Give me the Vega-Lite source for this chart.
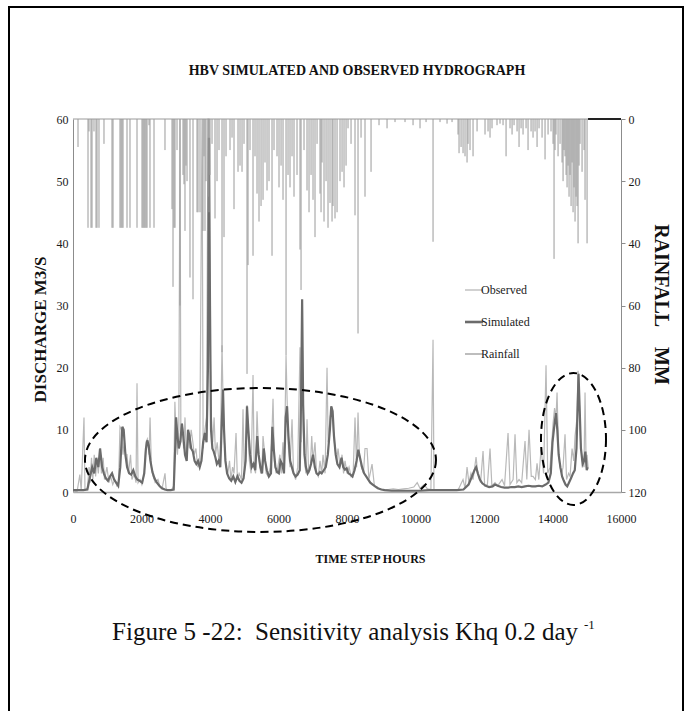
{
  "$schema": "https://vega.github.io/schema/vega-lite/v6.json",
  "width": 674,
  "height": 713,
  "autosize": "none",
  "padding": {"left": 9, "top": 7, "right": 8, "bottom": 0},
  "background": "white",
  "config": {
    "view": {"stroke": "#000000", "strokeWidth": 2},
    "font": "Liberation Serif",
    "axis": {"labelFont": "Liberation Serif", "titleFont": "Liberation Serif", "grid": false, "labelColor": "#1a1a1a", "titleColor": "#111111", "labelFlush": false, "labelOverlap": false}
  },
  "datasets": {
    "observed": [
      {"t":0,"Observed":0},{"t":120,"Observed":0.1},{"t":200,"Observed":2.8},{"t":240,"Observed":0.2},{"t":321,"Observed":12},{"t":350,"Observed":0.4},{"t":420,"Observed":0.6},{"t":470,"Observed":4},{"t":500,"Observed":1.5},{"t":540,"Observed":5.5},{"t":580,"Observed":2},{"t":620,"Observed":6},{"t":660,"Observed":2.5},{"t":700,"Observed":5},{"t":740,"Observed":3},{"t":790,"Observed":7},{"t":830,"Observed":3},{"t":880,"Observed":5.5},{"t":920,"Observed":2},{"t":990,"Observed":4},{"t":1050,"Observed":1.5},{"t":1100,"Observed":2.5},{"t":1160,"Observed":1.2},{"t":1220,"Observed":2},{"t":1280,"Observed":1},{"t":1330,"Observed":1.5},{"t":1372,"Observed":10.5},{"t":1420,"Observed":10},{"t":1460,"Observed":6},{"t":1500,"Observed":8},{"t":1540,"Observed":6},{"t":1577,"Observed":6},{"t":1620,"Observed":3},{"t":1680,"Observed":6},{"t":1720,"Observed":2},{"t":1790,"Observed":3},{"t":1840,"Observed":1.5},{"t":1869,"Observed":17.5},{"t":1900,"Observed":1.5},{"t":1960,"Observed":2},{"t":2010,"Observed":1.2},{"t":2080,"Observed":3},{"t":2130,"Observed":8},{"t":2170,"Observed":8.5},{"t":2220,"Observed":6},{"t":2250,"Observed":12},{"t":2290,"Observed":4},{"t":2340,"Observed":2.5},{"t":2400,"Observed":1.5},{"t":2480,"Observed":2},{"t":2540,"Observed":0.8},{"t":2600,"Observed":0.5},{"t":2686,"Observed":3},{"t":2720,"Observed":0.4},{"t":2800,"Observed":0.3},{"t":2880,"Observed":0.3},{"t":2940,"Observed":1},{"t":2975,"Observed":14.5},{"t":3010,"Observed":9},{"t":3050,"Observed":6},{"t":3090,"Observed":10},{"t":3124,"Observed":60},{"t":3150,"Observed":8},{"t":3190,"Observed":11},{"t":3230,"Observed":7},{"t":3270,"Observed":12},{"t":3310,"Observed":6},{"t":3360,"Observed":9},{"t":3400,"Observed":7},{"t":3450,"Observed":10},{"t":3500,"Observed":8},{"t":3540,"Observed":6},{"t":3590,"Observed":7},{"t":3640,"Observed":4},{"t":3700,"Observed":5},{"t":3767,"Observed":60},{"t":3800,"Observed":7},{"t":3850,"Observed":10},{"t":3900,"Observed":12},{"t":3942,"Observed":60},{"t":3971,"Observed":60},{"t":4000,"Observed":25},{"t":4040,"Observed":12},{"t":4080,"Observed":8},{"t":4120,"Observed":12},{"t":4160,"Observed":6},{"t":4210,"Observed":8},{"t":4260,"Observed":5},{"t":4300,"Observed":6},{"t":4351,"Observed":23.6},{"t":4380,"Observed":15},{"t":4420,"Observed":8},{"t":4470,"Observed":4},{"t":4520,"Observed":3},{"t":4570,"Observed":5},{"t":4610,"Observed":2},{"t":4660,"Observed":4},{"t":4701,"Observed":3},{"t":4760,"Observed":9.5},{"t":4800,"Observed":2},{"t":4850,"Observed":3},{"t":4920,"Observed":2},{"t":4964,"Observed":13.3},{"t":5000,"Observed":3},{"t":5050,"Observed":6},{"t":5081,"Observed":14},{"t":5110,"Observed":10},{"t":5150,"Observed":5},{"t":5200,"Observed":3},{"t":5256,"Observed":18.8},{"t":5290,"Observed":4},{"t":5330,"Observed":3},{"t":5373,"Observed":13},{"t":5420,"Observed":6},{"t":5480,"Observed":3},{"t":5520,"Observed":4},{"t":5548,"Observed":9},{"t":5600,"Observed":6},{"t":5640,"Observed":3},{"t":5700,"Observed":2.5},{"t":5760,"Observed":4},{"t":5800,"Observed":8},{"t":5840,"Observed":15},{"t":5880,"Observed":5},{"t":5930,"Observed":3},{"t":5980,"Observed":4},{"t":6040,"Observed":6},{"t":6080,"Observed":3},{"t":6130,"Observed":8},{"t":6170,"Observed":4},{"t":6220,"Observed":22},{"t":6249,"Observed":15.4},{"t":6290,"Observed":7},{"t":6336,"Observed":4},{"t":6395,"Observed":11.7},{"t":6440,"Observed":3},{"t":6500,"Observed":2},{"t":6560,"Observed":4},{"t":6628,"Observed":23.3},{"t":6660,"Observed":8},{"t":6687,"Observed":30},{"t":6720,"Observed":10},{"t":6760,"Observed":5},{"t":6800,"Observed":3},{"t":6833,"Observed":11.7},{"t":6880,"Observed":3},{"t":6930,"Observed":4},{"t":6970,"Observed":9},{"t":7008,"Observed":5},{"t":7066,"Observed":8},{"t":7110,"Observed":3},{"t":7160,"Observed":2.5},{"t":7212,"Observed":5},{"t":7260,"Observed":3},{"t":7300,"Observed":6},{"t":7360,"Observed":3},{"t":7417,"Observed":20},{"t":7450,"Observed":8},{"t":7504,"Observed":12},{"t":7563,"Observed":13.6},{"t":7600,"Observed":10},{"t":7650,"Observed":7},{"t":7700,"Observed":5},{"t":7738,"Observed":7},{"t":7800,"Observed":4},{"t":7855,"Observed":6},{"t":7900,"Observed":3},{"t":7942,"Observed":5},{"t":8000,"Observed":3},{"t":8060,"Observed":4},{"t":8120,"Observed":2.5},{"t":8180,"Observed":3},{"t":8234,"Observed":12},{"t":8280,"Observed":4},{"t":8322,"Observed":12.8},{"t":8360,"Observed":6},{"t":8420,"Observed":4},{"t":8480,"Observed":3},{"t":8526,"Observed":7},{"t":8585,"Observed":7},{"t":8640,"Observed":2},{"t":8731,"Observed":4.5},{"t":8800,"Observed":1},{"t":8877,"Observed":0.8},{"t":8950,"Observed":0.5},{"t":9052,"Observed":0.4},{"t":9200,"Observed":0.4},{"t":9350,"Observed":0.5},{"t":9500,"Observed":0.4},{"t":9650,"Observed":0.5},{"t":9800,"Observed":0.6},{"t":9950,"Observed":0.8},{"t":10050,"Observed":1.5},{"t":10132,"Observed":0.6},{"t":10250,"Observed":1.2},{"t":10350,"Observed":0.5},{"t":10450,"Observed":0.4},{"t":10512,"Observed":24.5},{"t":10540,"Observed":0.4},{"t":10700,"Observed":0.3},{"t":10900,"Observed":0.3},{"t":11100,"Observed":0.3},{"t":11250,"Observed":0.4},{"t":11388,"Observed":2},{"t":11450,"Observed":0.6},{"t":11505,"Observed":4},{"t":11560,"Observed":1.5},{"t":11620,"Observed":3},{"t":11680,"Observed":2},{"t":11768,"Observed":5.6},{"t":11820,"Observed":3},{"t":11900,"Observed":1.5},{"t":11972,"Observed":6.6},{"t":12020,"Observed":1},{"t":12100,"Observed":1.2},{"t":12176,"Observed":7},{"t":12230,"Observed":1},{"t":12322,"Observed":1.5},{"t":12400,"Observed":1},{"t":12527,"Observed":2},{"t":12600,"Observed":1},{"t":12702,"Observed":9.5},{"t":12760,"Observed":1.2},{"t":12850,"Observed":2},{"t":12906,"Observed":9.3},{"t":12960,"Observed":1.5},{"t":13023,"Observed":2},{"t":13100,"Observed":1.5},{"t":13198,"Observed":8.2},{"t":13250,"Observed":2},{"t":13315,"Observed":10},{"t":13380,"Observed":2.5},{"t":13432,"Observed":2.5},{"t":13500,"Observed":2},{"t":13549,"Observed":4.6},{"t":13600,"Observed":2},{"t":13666,"Observed":7},{"t":13740,"Observed":3},{"t":13811,"Observed":20.4},{"t":13860,"Observed":3},{"t":13928,"Observed":4},{"t":13980,"Observed":8},{"t":14016,"Observed":11},{"t":14060,"Observed":13.5},{"t":14103,"Observed":12},{"t":14133,"Observed":16},{"t":14180,"Observed":6},{"t":14220,"Observed":4},{"t":14270,"Observed":3},{"t":14308,"Observed":4},{"t":14366,"Observed":9.3},{"t":14410,"Observed":2},{"t":14470,"Observed":3},{"t":14512,"Observed":2.5},{"t":14571,"Observed":7},{"t":14620,"Observed":5},{"t":14658,"Observed":9},{"t":14717,"Observed":12},{"t":14746,"Observed":19.5},{"t":14780,"Observed":15},{"t":14820,"Observed":8},{"t":14870,"Observed":5},{"t":14920,"Observed":4},{"t":14950,"Observed":16},{"t":14980,"Observed":5},{"t":15009,"Observed":6},{"t":15038,"Observed":4}
    ],
    "simulated": [
      {"t":0,"Simulated":0.3},{"t":150,"Simulated":0.3},{"t":300,"Simulated":0.3},{"t":420,"Simulated":0.4},{"t":500,"Simulated":2.5},{"t":560,"Simulated":4},{"t":620,"Simulated":3},{"t":680,"Simulated":5.5},{"t":740,"Simulated":4},{"t":790,"Simulated":7},{"t":850,"Simulated":4},{"t":900,"Simulated":3},{"t":960,"Simulated":2.2},{"t":1020,"Simulated":1.8},{"t":1080,"Simulated":2.5},{"t":1140,"Simulated":3},{"t":1200,"Simulated":2},{"t":1260,"Simulated":1.5},{"t":1320,"Simulated":1},{"t":1380,"Simulated":4},{"t":1440,"Simulated":10.5},{"t":1480,"Simulated":10},{"t":1530,"Simulated":6},{"t":1580,"Simulated":4},{"t":1640,"Simulated":3},{"t":1700,"Simulated":2.8},{"t":1760,"Simulated":3.5},{"t":1820,"Simulated":2.5},{"t":1880,"Simulated":2},{"t":1950,"Simulated":1.8},{"t":2020,"Simulated":1.5},{"t":2080,"Simulated":3},{"t":2130,"Simulated":7},{"t":2170,"Simulated":8.3},{"t":2210,"Simulated":7.5},{"t":2260,"Simulated":5},{"t":2320,"Simulated":3.2},{"t":2380,"Simulated":2.2},{"t":2450,"Simulated":1.5},{"t":2520,"Simulated":1},{"t":2600,"Simulated":0.6},{"t":2680,"Simulated":0.4},{"t":2760,"Simulated":0.3},{"t":2850,"Simulated":0.3},{"t":2940,"Simulated":0.4},{"t":2990,"Simulated":8},{"t":3010,"Simulated":12},{"t":3050,"Simulated":9},{"t":3090,"Simulated":7},{"t":3130,"Simulated":8},{"t":3180,"Simulated":11},{"t":3220,"Simulated":9},{"t":3270,"Simulated":6},{"t":3320,"Simulated":5},{"t":3360,"Simulated":10},{"t":3400,"Simulated":9},{"t":3450,"Simulated":7},{"t":3500,"Simulated":6.5},{"t":3550,"Simulated":5},{"t":3600,"Simulated":4.5},{"t":3650,"Simulated":5},{"t":3700,"Simulated":4},{"t":3750,"Simulated":5},{"t":3800,"Simulated":8},{"t":3850,"Simulated":9.5},{"t":3900,"Simulated":8},{"t":3940,"Simulated":20},{"t":3970,"Simulated":57},{"t":4000,"Simulated":30},{"t":4030,"Simulated":10},{"t":4070,"Simulated":7},{"t":4110,"Simulated":6.5},{"t":4160,"Simulated":5.5},{"t":4200,"Simulated":4.5},{"t":4250,"Simulated":5},{"t":4300,"Simulated":4},{"t":4350,"Simulated":12},{"t":4380,"Simulated":16.5},{"t":4410,"Simulated":10},{"t":4450,"Simulated":5},{"t":4500,"Simulated":3},{"t":4560,"Simulated":2.2},{"t":4620,"Simulated":1.8},{"t":4680,"Simulated":2.5},{"t":4740,"Simulated":1.6},{"t":4800,"Simulated":2.5},{"t":4860,"Simulated":1.8},{"t":4920,"Simulated":1.5},{"t":4980,"Simulated":2.2},{"t":5040,"Simulated":5},{"t":5080,"Simulated":13.8},{"t":5120,"Simulated":10},{"t":5170,"Simulated":6},{"t":5220,"Simulated":4},{"t":5270,"Simulated":4.5},{"t":5320,"Simulated":3.5},{"t":5380,"Simulated":9},{"t":5420,"Simulated":6},{"t":5470,"Simulated":4},{"t":5520,"Simulated":3},{"t":5570,"Simulated":7},{"t":5610,"Simulated":5},{"t":5660,"Simulated":3.5},{"t":5720,"Simulated":2.5},{"t":5780,"Simulated":3},{"t":5820,"Simulated":10.5},{"t":5860,"Simulated":7},{"t":5910,"Simulated":4},{"t":5960,"Simulated":3.2},{"t":6010,"Simulated":3},{"t":6060,"Simulated":5},{"t":6110,"Simulated":4.5},{"t":6160,"Simulated":3},{"t":6210,"Simulated":12},{"t":6250,"Simulated":13.8},{"t":6290,"Simulated":9},{"t":6340,"Simulated":5},{"t":6390,"Simulated":4},{"t":6440,"Simulated":3},{"t":6500,"Simulated":2.5},{"t":6560,"Simulated":2.8},{"t":6620,"Simulated":3.5},{"t":6660,"Simulated":15},{"t":6690,"Simulated":31},{"t":6720,"Simulated":14},{"t":6760,"Simulated":6},{"t":6800,"Simulated":4},{"t":6850,"Simulated":3},{"t":6900,"Simulated":3.5},{"t":6950,"Simulated":4.5},{"t":7010,"Simulated":6},{"t":7060,"Simulated":4},{"t":7110,"Simulated":3},{"t":7160,"Simulated":2.8},{"t":7210,"Simulated":3.2},{"t":7260,"Simulated":3},{"t":7320,"Simulated":3.5},{"t":7380,"Simulated":4},{"t":7440,"Simulated":6},{"t":7500,"Simulated":10},{"t":7540,"Simulated":13.8},{"t":7580,"Simulated":13},{"t":7620,"Simulated":9},{"t":7670,"Simulated":6},{"t":7720,"Simulated":4.5},{"t":7780,"Simulated":4},{"t":7840,"Simulated":5.5},{"t":7890,"Simulated":4},{"t":7940,"Simulated":3.6},{"t":7990,"Simulated":3.8},{"t":8040,"Simulated":3},{"t":8100,"Simulated":2.8},{"t":8160,"Simulated":2.5},{"t":8220,"Simulated":3.5},{"t":8280,"Simulated":5},{"t":8330,"Simulated":6.8},{"t":8380,"Simulated":5.5},{"t":8440,"Simulated":4},{"t":8500,"Simulated":3},{"t":8560,"Simulated":2.5},{"t":8620,"Simulated":2},{"t":8680,"Simulated":1.5},{"t":8750,"Simulated":1.2},{"t":8820,"Simulated":0.9},{"t":8900,"Simulated":0.6},{"t":9000,"Simulated":0.4},{"t":9100,"Simulated":0.3},{"t":9300,"Simulated":0.2},{"t":9500,"Simulated":0.2},{"t":9800,"Simulated":0.2},{"t":10100,"Simulated":0.2},{"t":10400,"Simulated":0.3},{"t":10600,"Simulated":0.3},{"t":10800,"Simulated":0.3},{"t":11000,"Simulated":0.3},{"t":11200,"Simulated":0.3},{"t":11400,"Simulated":0.4},{"t":11550,"Simulated":1.2},{"t":11650,"Simulated":2.5},{"t":11720,"Simulated":3.5},{"t":11770,"Simulated":4},{"t":11820,"Simulated":3},{"t":11880,"Simulated":2},{"t":11950,"Simulated":1.4},{"t":12050,"Simulated":1},{"t":12150,"Simulated":0.8},{"t":12250,"Simulated":0.9},{"t":12320,"Simulated":1.2},{"t":12400,"Simulated":1},{"t":12500,"Simulated":0.8},{"t":12600,"Simulated":0.7},{"t":12700,"Simulated":0.7},{"t":12800,"Simulated":0.8},{"t":12900,"Simulated":0.8},{"t":13000,"Simulated":0.9},{"t":13100,"Simulated":0.8},{"t":13200,"Simulated":0.9},{"t":13300,"Simulated":1},{"t":13400,"Simulated":0.9},{"t":13500,"Simulated":0.9},{"t":13600,"Simulated":1},{"t":13700,"Simulated":0.9},{"t":13800,"Simulated":1.2},{"t":13880,"Simulated":1.5},{"t":13950,"Simulated":3},{"t":14000,"Simulated":8},{"t":14060,"Simulated":11},{"t":14100,"Simulated":12.7},{"t":14140,"Simulated":10},{"t":14180,"Simulated":6},{"t":14230,"Simulated":4},{"t":14280,"Simulated":2.5},{"t":14330,"Simulated":1.8},{"t":14380,"Simulated":1.2},{"t":14430,"Simulated":0.9},{"t":14480,"Simulated":1.5},{"t":14540,"Simulated":2.2},{"t":14600,"Simulated":3},{"t":14650,"Simulated":3.5},{"t":14700,"Simulated":7},{"t":14740,"Simulated":15},{"t":14760,"Simulated":19},{"t":14790,"Simulated":14},{"t":14830,"Simulated":7},{"t":14880,"Simulated":4.5},{"t":14920,"Simulated":5},{"t":14960,"Simulated":6.5},{"t":15000,"Simulated":3.5},{"t":15030,"Simulated":4}
    ],
    "rainfall": [
      {"t":146,"Rainfall":9},{"t":438,"Rainfall":35},{"t":467,"Rainfall":4},{"t":526,"Rainfall":35},{"t":555,"Rainfall":35},{"t":613,"Rainfall":4},{"t":672,"Rainfall":35},{"t":701,"Rainfall":35},{"t":759,"Rainfall":35},{"t":905,"Rainfall":8},{"t":1139,"Rainfall":35},{"t":1168,"Rainfall":35},{"t":1372,"Rainfall":35},{"t":1402,"Rainfall":35},{"t":1431,"Rainfall":35},{"t":1460,"Rainfall":35},{"t":1577,"Rainfall":35},{"t":1664,"Rainfall":35},{"t":1869,"Rainfall":35},{"t":2015,"Rainfall":35},{"t":2044,"Rainfall":35},{"t":2073,"Rainfall":35},{"t":2102,"Rainfall":35},{"t":2132,"Rainfall":35},{"t":2161,"Rainfall":35},{"t":2219,"Rainfall":2},{"t":2248,"Rainfall":35},{"t":2365,"Rainfall":35},{"t":2686,"Rainfall":10},{"t":2891,"Rainfall":29},{"t":2920,"Rainfall":54},{"t":2949,"Rainfall":35},{"t":2978,"Rainfall":35},{"t":3037,"Rainfall":10},{"t":3124,"Rainfall":60},{"t":3212,"Rainfall":18},{"t":3241,"Rainfall":21},{"t":3270,"Rainfall":36},{"t":3299,"Rainfall":15},{"t":3329,"Rainfall":20},{"t":3416,"Rainfall":51},{"t":3504,"Rainfall":58},{"t":3621,"Rainfall":30},{"t":3650,"Rainfall":30},{"t":3708,"Rainfall":30},{"t":3796,"Rainfall":36},{"t":3825,"Rainfall":12},{"t":3854,"Rainfall":36},{"t":3883,"Rainfall":20},{"t":3942,"Rainfall":25},{"t":3971,"Rainfall":30},{"t":4000,"Rainfall":18},{"t":4059,"Rainfall":8},{"t":4146,"Rainfall":32},{"t":4205,"Rainfall":20},{"t":4263,"Rainfall":10},{"t":4351,"Rainfall":75},{"t":4409,"Rainfall":38},{"t":4468,"Rainfall":12},{"t":4584,"Rainfall":10},{"t":4643,"Rainfall":6},{"t":4701,"Rainfall":29},{"t":4818,"Rainfall":17},{"t":4876,"Rainfall":15},{"t":4935,"Rainfall":17},{"t":4993,"Rainfall":8},{"t":5081,"Rainfall":82},{"t":5110,"Rainfall":47},{"t":5168,"Rainfall":10},{"t":5256,"Rainfall":44},{"t":5314,"Rainfall":12},{"t":5373,"Rainfall":24},{"t":5431,"Rainfall":33},{"t":5490,"Rainfall":28},{"t":5548,"Rainfall":26},{"t":5606,"Rainfall":14},{"t":5665,"Rainfall":23},{"t":5723,"Rainfall":20},{"t":5811,"Rainfall":44},{"t":5869,"Rainfall":10},{"t":5957,"Rainfall":12},{"t":6015,"Rainfall":22},{"t":6074,"Rainfall":15},{"t":6132,"Rainfall":26},{"t":6220,"Rainfall":76},{"t":6278,"Rainfall":18},{"t":6336,"Rainfall":22},{"t":6395,"Rainfall":12},{"t":6453,"Rainfall":25},{"t":6541,"Rainfall":18},{"t":6628,"Rainfall":42},{"t":6658,"Rainfall":55},{"t":6745,"Rainfall":10},{"t":6833,"Rainfall":23},{"t":6891,"Rainfall":30},{"t":6950,"Rainfall":18},{"t":7008,"Rainfall":26},{"t":7066,"Rainfall":38},{"t":7125,"Rainfall":8},{"t":7212,"Rainfall":24},{"t":7242,"Rainfall":30},{"t":7271,"Rainfall":14},{"t":7329,"Rainfall":33},{"t":7388,"Rainfall":20},{"t":7446,"Rainfall":35},{"t":7504,"Rainfall":27},{"t":7563,"Rainfall":33},{"t":7592,"Rainfall":28},{"t":7650,"Rainfall":32},{"t":7709,"Rainfall":30},{"t":7796,"Rainfall":20},{"t":7855,"Rainfall":17},{"t":7913,"Rainfall":22},{"t":7972,"Rainfall":15},{"t":8030,"Rainfall":3},{"t":8118,"Rainfall":8},{"t":8234,"Rainfall":31},{"t":8322,"Rainfall":69},{"t":8410,"Rainfall":6},{"t":8526,"Rainfall":25},{"t":8702,"Rainfall":17},{"t":8935,"Rainfall":2},{"t":9169,"Rainfall":3},{"t":9402,"Rainfall":1},{"t":9694,"Rainfall":1},{"t":9928,"Rainfall":2},{"t":10132,"Rainfall":3},{"t":10308,"Rainfall":1},{"t":10512,"Rainfall":39.5},{"t":10716,"Rainfall":1},{"t":10921,"Rainfall":1.5},{"t":11067,"Rainfall":1},{"t":11242,"Rainfall":5},{"t":11271,"Rainfall":11},{"t":11330,"Rainfall":9},{"t":11388,"Rainfall":11},{"t":11446,"Rainfall":12},{"t":11505,"Rainfall":14},{"t":11534,"Rainfall":8},{"t":11592,"Rainfall":10},{"t":11680,"Rainfall":12},{"t":11797,"Rainfall":4},{"t":12030,"Rainfall":5},{"t":12118,"Rainfall":4},{"t":12176,"Rainfall":6},{"t":12234,"Rainfall":3},{"t":12380,"Rainfall":2},{"t":12468,"Rainfall":1.5},{"t":12556,"Rainfall":2},{"t":12644,"Rainfall":12},{"t":12760,"Rainfall":3},{"t":12819,"Rainfall":5},{"t":12877,"Rainfall":2},{"t":12965,"Rainfall":4},{"t":13023,"Rainfall":9},{"t":13082,"Rainfall":3},{"t":13140,"Rainfall":5},{"t":13228,"Rainfall":3},{"t":13286,"Rainfall":10},{"t":13374,"Rainfall":4},{"t":13432,"Rainfall":6},{"t":13490,"Rainfall":4},{"t":13549,"Rainfall":9},{"t":13607,"Rainfall":3},{"t":13695,"Rainfall":6},{"t":13782,"Rainfall":13},{"t":13870,"Rainfall":5},{"t":13957,"Rainfall":4},{"t":14016,"Rainfall":8},{"t":14045,"Rainfall":45},{"t":14074,"Rainfall":10},{"t":14103,"Rainfall":5},{"t":14162,"Rainfall":12},{"t":14220,"Rainfall":8},{"t":14279,"Rainfall":14},{"t":14308,"Rainfall":20},{"t":14337,"Rainfall":10},{"t":14366,"Rainfall":12},{"t":14396,"Rainfall":18},{"t":14425,"Rainfall":22},{"t":14454,"Rainfall":15},{"t":14483,"Rainfall":25},{"t":14512,"Rainfall":18},{"t":14542,"Rainfall":28},{"t":14571,"Rainfall":14},{"t":14600,"Rainfall":30},{"t":14629,"Rainfall":22},{"t":14658,"Rainfall":33},{"t":14688,"Rainfall":25},{"t":14717,"Rainfall":28},{"t":14746,"Rainfall":40},{"t":14775,"Rainfall":15},{"t":14804,"Rainfall":8},{"t":14863,"Rainfall":17},{"t":14921,"Rainfall":10},{"t":14950,"Rainfall":26},{"t":15009,"Rainfall":40}
    ]
  },
  "layer": [
    {
      "layer": [
        {
          "data": {"name": "observed"},
          "transform": [{"fold": ["Observed"], "as": ["series", "q"]}],
          "mark": {"type": "line", "strokeWidth": 1.2},
          "encoding": {
            "x": {
              "field": "t", "type": "quantitative",
              "scale": {"domain": [0, 16000], "range": [64, 612], "nice": false, "zero": false},
              "axis": {
                "orient": "bottom", "offset": -228, "values": [0, 2000, 4000, 6000, 8000, 10000, 12000, 14000, 16000],
                "format": "d", "domainColor": "#a8a8a8", "domainWidth": 1.5, "ticks": false, "labelPadding": 21,
                "labelFontSize": 12, "title": "TIME STEP HOURS", "titleFontSize": 12, "titleFontWeight": "bold",
                "titleX": 361, "titleY": 66, "titleBaseline": "middle"
              }
            },
            "y": {
              "field": "q", "type": "quantitative",
              "scale": {"domain": [0, 60], "range": [485, 112], "nice": false, "zero": false},
              "axis": {
                "orient": "left", "offset": -64, "values": [0, 10, 20, 30, 40, 50, 60],
                "domainColor": "#8c8c8c", "ticks": false, "labelPadding": 5, "labelFontSize": 12,
                "title": "DISCHARGE M3/S", "titleFontSize": 17, "titleFontWeight": "bold",
                "titleX": -33, "titleY": 322, "titleBaseline": "middle", "titleAngle": -90
              }
            },
            "color": {
              "field": "series", "type": "nominal",
              "scale": {"domain": ["Observed", "Simulated", "Rainfall"], "range": ["#b9b9b9", "#6b6b6b", "#9a9a9a"]},
              "legend": {
                "orient": "none", "legendX": 459, "legendY": 277, "title": null,
                "symbolType": "stroke", "symbolSize": 324, "symbolStrokeWidth": 1.3,
                "labelFont": "Liberation Serif", "labelFontSize": 12, "labelColor": "#222222",
                "labelOffset": 1, "rowPadding": 20,
                "encode": {"symbols": {"update": {"strokeWidth": {"signal": "datum.value === 'Simulated' ? 2.6 : 1.3"}}}}
              }
            }
          }
        },
        {
          "data": {"name": "simulated"},
          "transform": [{"fold": ["Simulated"], "as": ["series", "q"]}],
          "mark": {"type": "line", "strokeWidth": 2.2},
          "encoding": {
            "x": {"field": "t", "type": "quantitative", "scale": {"domain": [0, 16000], "range": [64, 612], "nice": false, "zero": false}},
            "y": {"field": "q", "type": "quantitative", "scale": {"domain": [0, 60], "range": [485, 112], "nice": false, "zero": false}},
            "color": {"field": "series", "type": "nominal", "scale": {"domain": ["Observed", "Simulated", "Rainfall"], "range": ["#b9b9b9", "#6b6b6b", "#9a9a9a"]}}
          }
        },
        {
          "data": {"values": [{}]},
          "mark": {
            "type": "point", "filled": false, "opacity": 1, "color": "#000000", "strokeWidth": 2, "strokeDash": [8, 5],
            "shape": "M1,0C1,0.2264 0.5523,0.41 0,0.41C-0.5523,0.41 -1,0.2264 -1,0C-1,-0.2264 -0.5523,-0.41 0,-0.41C0.5523,-0.41 1,-0.2264 1,0Z",
            "size": 123201
          },
          "encoding": {"x": {"datum": 5474, "type": "quantitative"}, "y": {"datum": 5.15, "type": "quantitative"}}
        },
        {
          "data": {"values": [{}]},
          "mark": {
            "type": "point", "filled": false, "opacity": 1, "color": "#000000", "strokeWidth": 2, "strokeDash": [8, 5],
            "shape": "M1,0C1,1.1212 0.5523,2.03 0,2.03C-0.5523,2.03 -1,1.1212 -1,0C-1,-1.1212 -0.5523,-2.03 0,-2.03C0.5523,-2.03 1,-1.1212 1,0Z",
            "size": 4225
          },
          "encoding": {"x": {"datum": 14613, "type": "quantitative"}, "y": {"datum": 8.53, "type": "quantitative"}}
        },
        {
          "data": {"values": [{}]},
          "mark": {"type": "text", "text": "HBV SIMULATED AND OBSERVED HYDROGRAPH", "font": "Liberation Serif", "fontSize": 14, "fontWeight": "bold", "align": "center", "baseline": "middle", "color": "#111111"},
          "encoding": {"x": {"datum": 8292, "type": "quantitative"}, "y": {"datum": 67.7, "type": "quantitative"}}
        },
        {
          "data": {"values": [{}]},
          "mark": {"type": "text", "text": "Figure 5 -22:\u00a0\u00a0Sensitivity analysis Khq 0.2 day", "font": "Liberation Serif", "fontSize": 25, "align": "right", "baseline": "middle", "color": "#111111"},
          "encoding": {"x": {"datum": 14745, "type": "quantitative"}, "y": {"datum": -22.5, "type": "quantitative"}}
        },
        {
          "data": {"values": [{}]},
          "mark": {"type": "text", "text": "-1", "font": "Liberation Serif", "fontSize": 13, "align": "left", "baseline": "middle", "color": "#111111"},
          "encoding": {"x": {"datum": 14920, "type": "quantitative"}, "y": {"datum": -21.4, "type": "quantitative"}}
        }
      ]
    },
    {
      "layer": [
        {
          "data": {"name": "rainfall"},
          "transform": [{"fold": ["Rainfall"], "as": ["series", "r"]}],
          "mark": {"type": "rule", "strokeWidth": 1},
          "encoding": {
            "x": {"field": "t", "type": "quantitative", "scale": {"domain": [0, 16000], "range": [64, 612], "nice": false, "zero": false}},
            "y": {
              "field": "r", "type": "quantitative",
              "scale": {"domain": [0, 120], "range": [112, 485], "nice": false, "zero": false},
              "axis": {
                "orient": "right", "offset": -62, "values": [0, 20, 40, 60, 80, 100, 120],
                "domainColor": "#8c8c8c", "tickColor": "#8c8c8c", "tickSize": 4, "labelPadding": 3, "labelFontSize": 12,
                "title": "RAINFALL\u00a0\u00a0\u00a0\u00a0MM", "titleFontSize": 20, "titleFontWeight": "bold",
                "titleAngle": 90, "titleX": 39, "titleY": 297, "titleBaseline": "middle"
              }
            },
            "y2": {"datum": 0},
            "color": {"field": "series", "type": "nominal", "scale": {"domain": ["Observed", "Simulated", "Rainfall"], "range": ["#b9b9b9", "#6b6b6b", "#9a9a9a"]}}
          }
        },
        {
          "data": {"values": [{}]},
          "mark": {"type": "rule", "color": "#9a9a9a", "strokeWidth": 1},
          "encoding": {"x": {"datum": 0, "type": "quantitative"}, "x2": {"datum": 16000}, "y": {"datum": 0, "type": "quantitative"}}
        },
        {
          "data": {"values": [{}]},
          "mark": {"type": "rule", "color": "#222222", "strokeWidth": 2},
          "encoding": {"x": {"datum": 15038, "type": "quantitative"}, "x2": {"datum": 16000}, "y": {"datum": 0, "type": "quantitative"}}
        }
      ]
    }
  ],
  "resolve": {"scale": {"y": "independent"}}
}
